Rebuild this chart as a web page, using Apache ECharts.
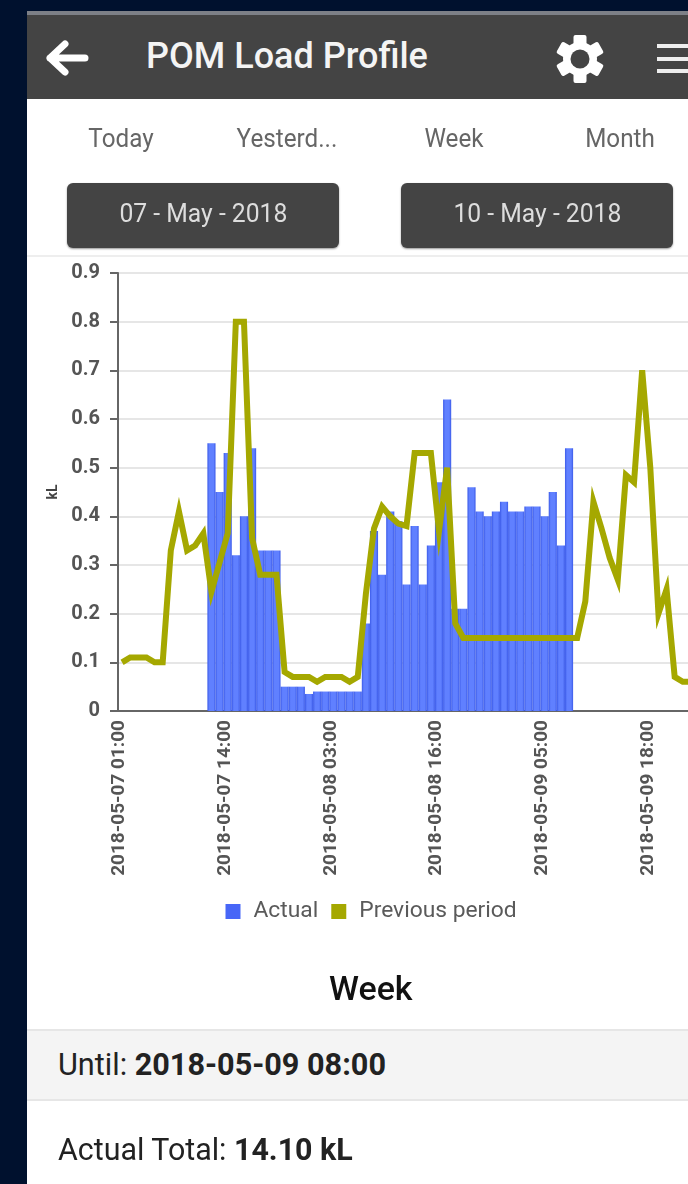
<!DOCTYPE html>
<html>
<head>
<meta charset="utf-8">
<title>POM Load Profile</title>
<script src="https://cdn.jsdelivr.net/npm/echarts@6/dist/echarts.min.js"></script>
<style>
html,body{margin:0;padding:0;background:#fff;width:688px;height:1184px;overflow:hidden;font-family:Roboto,sans-serif}
#page{position:absolute;left:0;top:0;width:688px;height:1184px;overflow:hidden;filter:blur(.6px)}
.abs{position:absolute;white-space:nowrap}
#chart{position:absolute;left:0;top:0;width:700px;height:1184px}
.tab{top:123px;font-size:25px;line-height:32px;color:#666;transform:translateX(-50%) scaleX(.97)}
.btn{top:183px;height:65px;width:272px;border-radius:6px;background:#444;color:#ddd;font-size:26px;line-height:60px;text-align:center;box-shadow:0 1px 2px #999}
.btn span{display:inline-block;transform:scaleX(.95)}
.row{left:58px;font-size:31px;line-height:36px;color:#222;transform:scaleX(.98);transform-origin:left center}
</style>
</head>
<body>
<div id="page">
<div class="abs" style="left:27px;top:10px;width:661px;height:6px;background:#7d8087"></div>
<div class="abs" style="left:27px;top:15px;width:661px;height:84px;background:#444"></div>
<div class="abs" style="left:0;top:0;width:688px;height:11px;background:#00112e"></div>
<div class="abs" style="left:0;top:0;width:27px;height:1184px;background:#00112e"></div>

<svg class="abs" style="left:44px;top:38px" width="46" height="40" viewBox="0 0 46 40">
  <path d="M21 6 L6 20 L21 34 M6 20 L41 20" fill="none" stroke="#fff" stroke-width="7" stroke-linecap="round" stroke-linejoin="round"/>
</svg>
<div class="abs" style="left:146px;top:34px;font-size:36px;line-height:44px;font-weight:500;color:#f4f4f4">POM Load Profile</div>
<svg class="abs" style="left:554px;top:33px" width="52" height="52" viewBox="-26 -26 52 52">
  <g fill="#fff">
    <circle r="17"/>
    <rect x="-6.5" y="-24" width="13" height="48" rx="2"/>
    <rect x="-6.5" y="-24" width="13" height="48" rx="2" transform="rotate(60)"/>
    <rect x="-6.5" y="-24" width="13" height="48" rx="2" transform="rotate(120)"/>
  </g>
  <circle r="9.5" fill="#444"/>
</svg>
<div class="abs" style="left:657px;top:44px;width:31px;height:4px;background:#eee"></div>
<div class="abs" style="left:657px;top:57px;width:31px;height:4px;background:#eee"></div>
<div class="abs" style="left:657px;top:69px;width:31px;height:4px;background:#eee"></div>

<div class="abs tab" style="left:121px">Today</div>
<div class="abs tab" style="left:287px">Yesterd...</div>
<div class="abs tab" style="left:454px">Week</div>
<div class="abs tab" style="left:620px">Month</div>
<div class="abs btn" style="left:67px"><span>07 - May - 2018</span></div>
<div class="abs btn" style="left:401px"><span>10 - May - 2018</span></div>
<div class="abs" style="left:27px;top:255px;width:661px;height:2px;background:#eee"></div>

<div id="chart"></div>

<div class="abs" style="left:27px;top:1029px;width:661px;height:72px;background:#f4f4f4;border-top:2px solid #e6e6e6;border-bottom:2px solid #e6e6e6;box-sizing:border-box"></div>
<div class="abs" style="left:329px;top:968px;font-size:34px;line-height:40px;font-weight:500;color:#111">Week</div>
<div class="abs row" style="top:1047px;transform:scaleX(.988)">Until: <b style="font-weight:700">2018-05-09 08:00</b></div>
<div class="abs row" style="top:1132px">Actual Total: <b style="font-weight:700">14.10 kL</b></div>
</div>

<script>
var categories = [
  '2018-05-07 01:00','2018-05-07 02:00','2018-05-07 03:00','2018-05-07 04:00','2018-05-07 05:00','2018-05-07 06:00',
  '2018-05-07 07:00','2018-05-07 08:00','2018-05-07 09:00','2018-05-07 10:00','2018-05-07 11:00','2018-05-07 12:00',
  '2018-05-07 13:00','2018-05-07 14:00','2018-05-07 15:00','2018-05-07 16:00','2018-05-07 17:00','2018-05-07 18:00',
  '2018-05-07 19:00','2018-05-07 20:00','2018-05-07 21:00','2018-05-07 22:00','2018-05-07 23:00',
  '2018-05-08 00:00','2018-05-08 01:00','2018-05-08 02:00','2018-05-08 03:00','2018-05-08 04:00','2018-05-08 05:00',
  '2018-05-08 06:00','2018-05-08 07:00','2018-05-08 08:00','2018-05-08 09:00','2018-05-08 10:00','2018-05-08 11:00',
  '2018-05-08 12:00','2018-05-08 13:00','2018-05-08 14:00','2018-05-08 15:00','2018-05-08 16:00','2018-05-08 17:00',
  '2018-05-08 18:00','2018-05-08 19:00','2018-05-08 20:00','2018-05-08 21:00','2018-05-08 22:00','2018-05-08 23:00',
  '2018-05-09 00:00','2018-05-09 01:00','2018-05-09 02:00','2018-05-09 03:00','2018-05-09 04:00','2018-05-09 05:00',
  '2018-05-09 06:00','2018-05-09 07:00','2018-05-09 08:00','2018-05-09 09:00','2018-05-09 10:00','2018-05-09 11:00',
  '2018-05-09 12:00','2018-05-09 13:00','2018-05-09 14:00','2018-05-09 15:00','2018-05-09 16:00','2018-05-09 17:00',
  '2018-05-09 18:00','2018-05-09 19:00','2018-05-09 20:00','2018-05-09 21:00','2018-05-09 22:00','2018-05-09 23:00'
];
var actual = [
  null,null,null,null,null,null,null,null,null,null,null,
  .55,.45,.53,.32,.40,.54,.33,.33,.33,.05,.05,.05,.035,.04,.04,.04,.04,.04,.04,
  .18,.37,.28,.41,.39,.26,.38,.26,.34,.47,.64,.21,.21,
  .46,.41,.40,.41,.43,.41,.41,.42,.42,.40,.45,.34,.54,
  null,null,null,null,null,null,null,null,null,null,null,null,null,null,null
];
var previous = [
  .10,.11,.11,.11,.10,.10,.33,.41,.33,.34,.365,.245,.305,.365,.80,.80,.355,.28,.28,.28,
  .08,.07,.07,.07,.06,.07,.07,.07,.06,.07,.24,.375,.42,.40,.385,.38,.53,.53,.53,.37,
  .50,.18,.15,.15,.15,.15,.15,.15,.15,.15,.15,.15,.15,.15,.15,.15,.15,
  .225,.43,.375,.315,.27,.485,.47,.70,.50,.20,.25,.07,.06,.06
];
var yTicks = {min:0,max:.9,interval:.1};

var chart = echarts.init(document.getElementById('chart'),null,{renderer:'canvas'});
chart.setOption({
  backgroundColor:'transparent',
  animation:false,
  textStyle:{fontFamily:'Roboto'},
  grid:{left:118,top:273,bottom:473,right:5,containLabel:false},
  legend:{
    left:220.5,top:895,itemWidth:15,itemHeight:15,itemGap:13,icon:'rect',
    textStyle:{fontSize:22.8,color:'#5a5a5a',fontFamily:'Roboto',padding:[0,0,0,8]},
    data:[
      {name:'Actual',itemStyle:{color:'#4766f7',borderWidth:0}},
      {name:'Previous period',itemStyle:{color:'#a5a800',borderWidth:0}}
    ]
  },
  xAxis:{
    type:'category',data:categories,boundaryGap:true,
    axisLine:{lineStyle:{color:'#666',width:2}},
    axisTick:{show:false},
    axisLabel:{
      interval:12,rotate:90,margin:9,fontSize:19,fontWeight:'bold',color:'#555',
      fontFamily:'Roboto',lineHeight:5,verticalAlign:'bottom',hideOverlap:false
    },
    splitLine:{show:false}
  },
  yAxis:{
    type:'value',min:yTicks.min,max:yTicks.max,interval:yTicks.interval,
    name:'kL',nameLocation:'middle',nameGap:56,nameRotate:90,
    nameTextStyle:{fontSize:14,fontWeight:'bold',color:'#444'},
    axisLine:{show:true,lineStyle:{color:'#666',width:2}},
    axisTick:{show:true,length:8,lineStyle:{color:'#666',width:2}},
    axisLabel:{margin:18,fontSize:20,fontWeight:'bold',color:'#555',
      formatter:function(v){return v===0?'0':v.toFixed(1);}},
    splitLine:{show:true,lineStyle:{color:'#e6e6e6',width:2}}
  },
  series:[
    {name:'Actual',type:'bar',data:actual,barWidth:'100%',
     itemStyle:{color:{type:'linear',x:0,y:0,x2:1,y2:0,colorStops:[
       {offset:0,color:'#3b5ae8'},{offset:.25,color:'#6080ff'},{offset:.75,color:'#6080ff'},{offset:1,color:'#3b5ae8'}]}}},
    {name:'Previous period',type:'line',data:previous,symbol:'none',smooth:false,
     itemStyle:{color:'#a5a800'},
     lineStyle:{color:'#a5a800',width:6,join:'miter'},z:5}
  ]
});
</script>
</body>
</html>
